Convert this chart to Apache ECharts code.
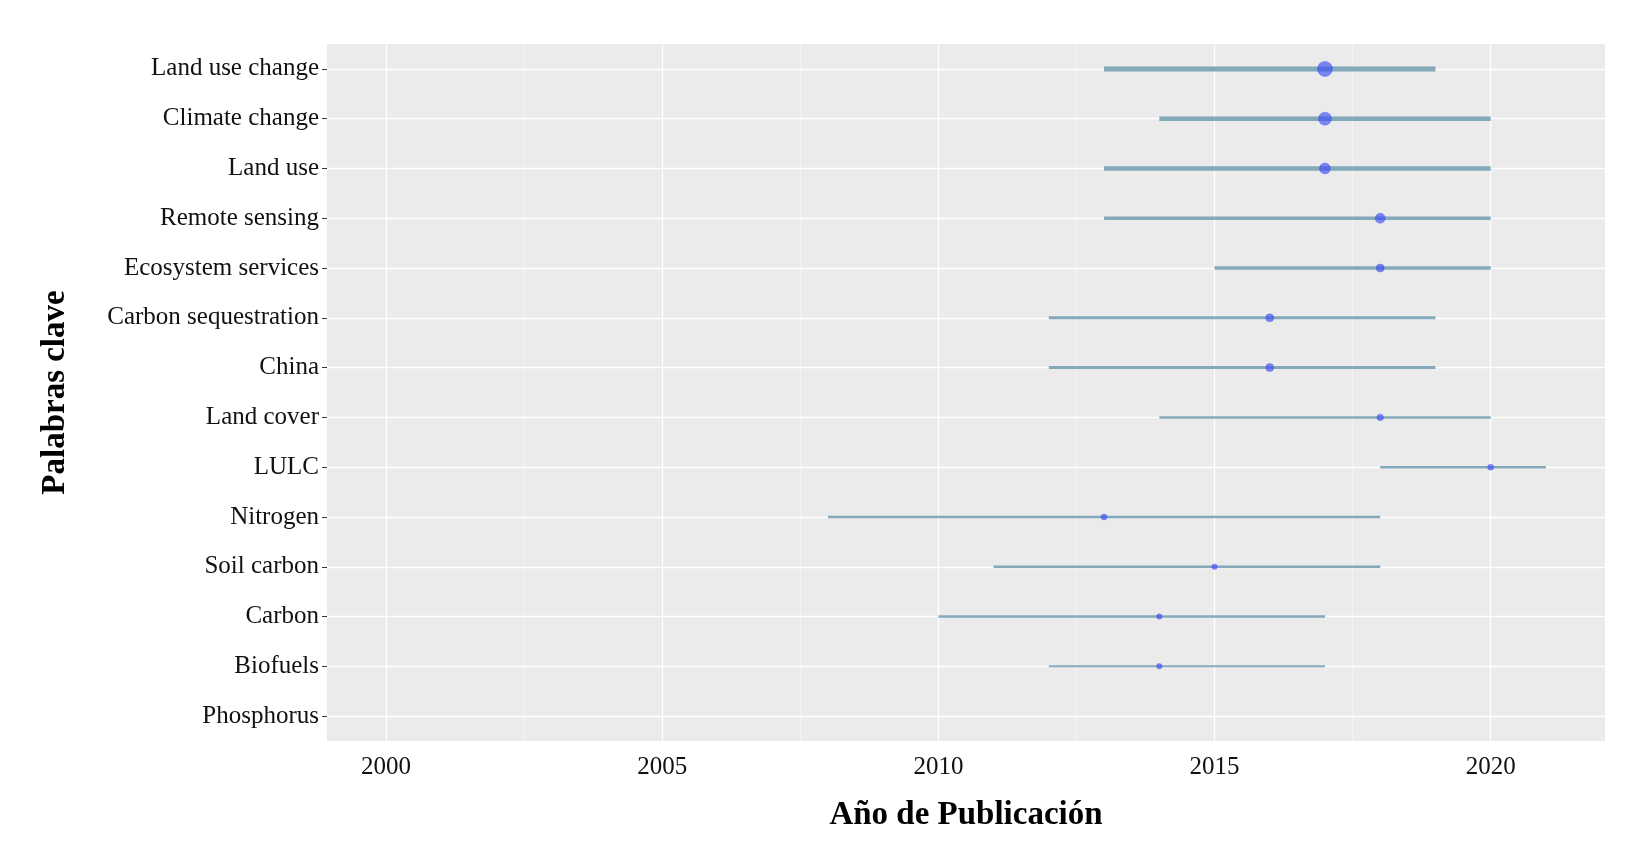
<!DOCTYPE html>
<html><head><meta charset="utf-8">
<script src="https://cdn.jsdelivr.net/npm/echarts@6/dist/echarts.min.js"></script>
<style>html,body{margin:0;background:#fff}#main{width:1634px;height:844px}</style>
</head><body><div id="main"></div>
<script>
// keywords, top to bottom
var keywords = ['Land use change','Climate change','Land use','Remote sensing','Ecosystem services',
  'Carbon sequestration','China','Land cover','LULC','Nitrogen','Soil carbon','Carbon','Biofuels','Phosphorus'];
var yearStart = [2013,2014,2013,2013,2015,2012,2012,2014,2018,2008,2011,2010,2012,null];
var yearEnd   = [2019,2020,2020,2020,2020,2019,2019,2020,2021,2018,2018,2017,2017,null];
var yearMid   = [2017,2017,2017,2018,2018,2016,2016,2018,2020,2013,2015,2014,2014,null];
var lineW     = [5,4.5,4.5,3.5,3.5,3,3,2.5,2.5,2.5,2.5,2.5,2,0];
var dotSize   = [15,13,11,10,8,8,8,6.5,6,6,5.5,5.5,5.5,0];
var majorTicks = [2000,2005,2010,2015,2020];
var minorTicks = [2002.5,2007.5,2012.5,2017.5];

var font = '"Liberation Serif", "DejaVu Serif", serif';
var segs = [], dots = [];
keywords.forEach(function(k, i){
  if (yearStart[i] == null) return;
  segs.push([yearStart[i], yearEnd[i], i, lineW[i]]);
  dots.push([yearMid[i], i, dotSize[i]]);
});

var chart = echarts.init(document.getElementById('main'));
chart.setOption({
  backgroundColor:'#fff',
  grid: {left:327, right:29, top:44, bottom:103, show:true, backgroundColor:'#EBEBEB', borderWidth:0},
  xAxis: {
    type:'value', min:1998.93, max:2022.07,
    splitLine:{show:false},
    axisLine:{show:false},
    axisTick:{show:false},
    axisLabel:{fontFamily:font, fontSize:25, color:'#111', margin:14,
      formatter:function(v){ return majorTicks.indexOf(v) >= 0 ? String(v) : ''; }},
    name:'Año de Publicación', nameLocation:'middle', nameGap:58,
    nameTextStyle:{fontFamily:font, fontSize:33, fontWeight:'bold', color:'#000'}
  },
  yAxis: {
    type:'category', data:keywords, inverse:true, boundaryGap:true,
    splitLine:{show:false},
    axisLine:{show:false},
    axisTick:{show:true, alignWithLabel:true, length:5, lineStyle:{color:'#333'}},
    axisLabel:{fontFamily:font, fontSize:25, color:'#111', margin:8},
    name:'Palabras clave', nameLocation:'middle', nameGap:255, nameRotate:90,
    nameTextStyle:{fontFamily:font, fontSize:33, fontWeight:'bold', color:'#000'}
  },
  series: [
    {
      type:'custom', data:segs, z:2,
      renderItem:function(params, api){
        var a = api.coord([api.value(0), api.value(2)]);
        var b = api.coord([api.value(1), api.value(2)]);
        return {type:'line', shape:{x1:a[0], y1:a[1], x2:b[0], y2:b[1]},
          style:{stroke:'rgba(110,155,175,0.85)', lineWidth:api.value(3)}};
      }
    },
    {
      type:'scatter', data:dots, z:3,
      symbolSize:function(v){ return v[2]; },
      itemStyle:{color:'rgba(60,75,245,0.8)', borderColor:'rgba(60,75,245,0.9)', borderWidth:0.5},
      markLine:{
        silent:true, symbol:'none', label:{show:false}, z:1, animation:false,
        data: majorTicks.map(function(t){ return {xAxis:t, lineStyle:{color:'#fff', width:1.3, type:'solid'}}; })
          .concat(minorTicks.map(function(t){ return {xAxis:t, lineStyle:{color:'#f6f6f6', width:0.7, type:'solid'}}; }))
          .concat(keywords.map(function(k, i){ return {yAxis:i, lineStyle:{color:'#fff', width:1.3, type:'solid'}}; }))
      }
    }
  ]
});
</script></body></html>
